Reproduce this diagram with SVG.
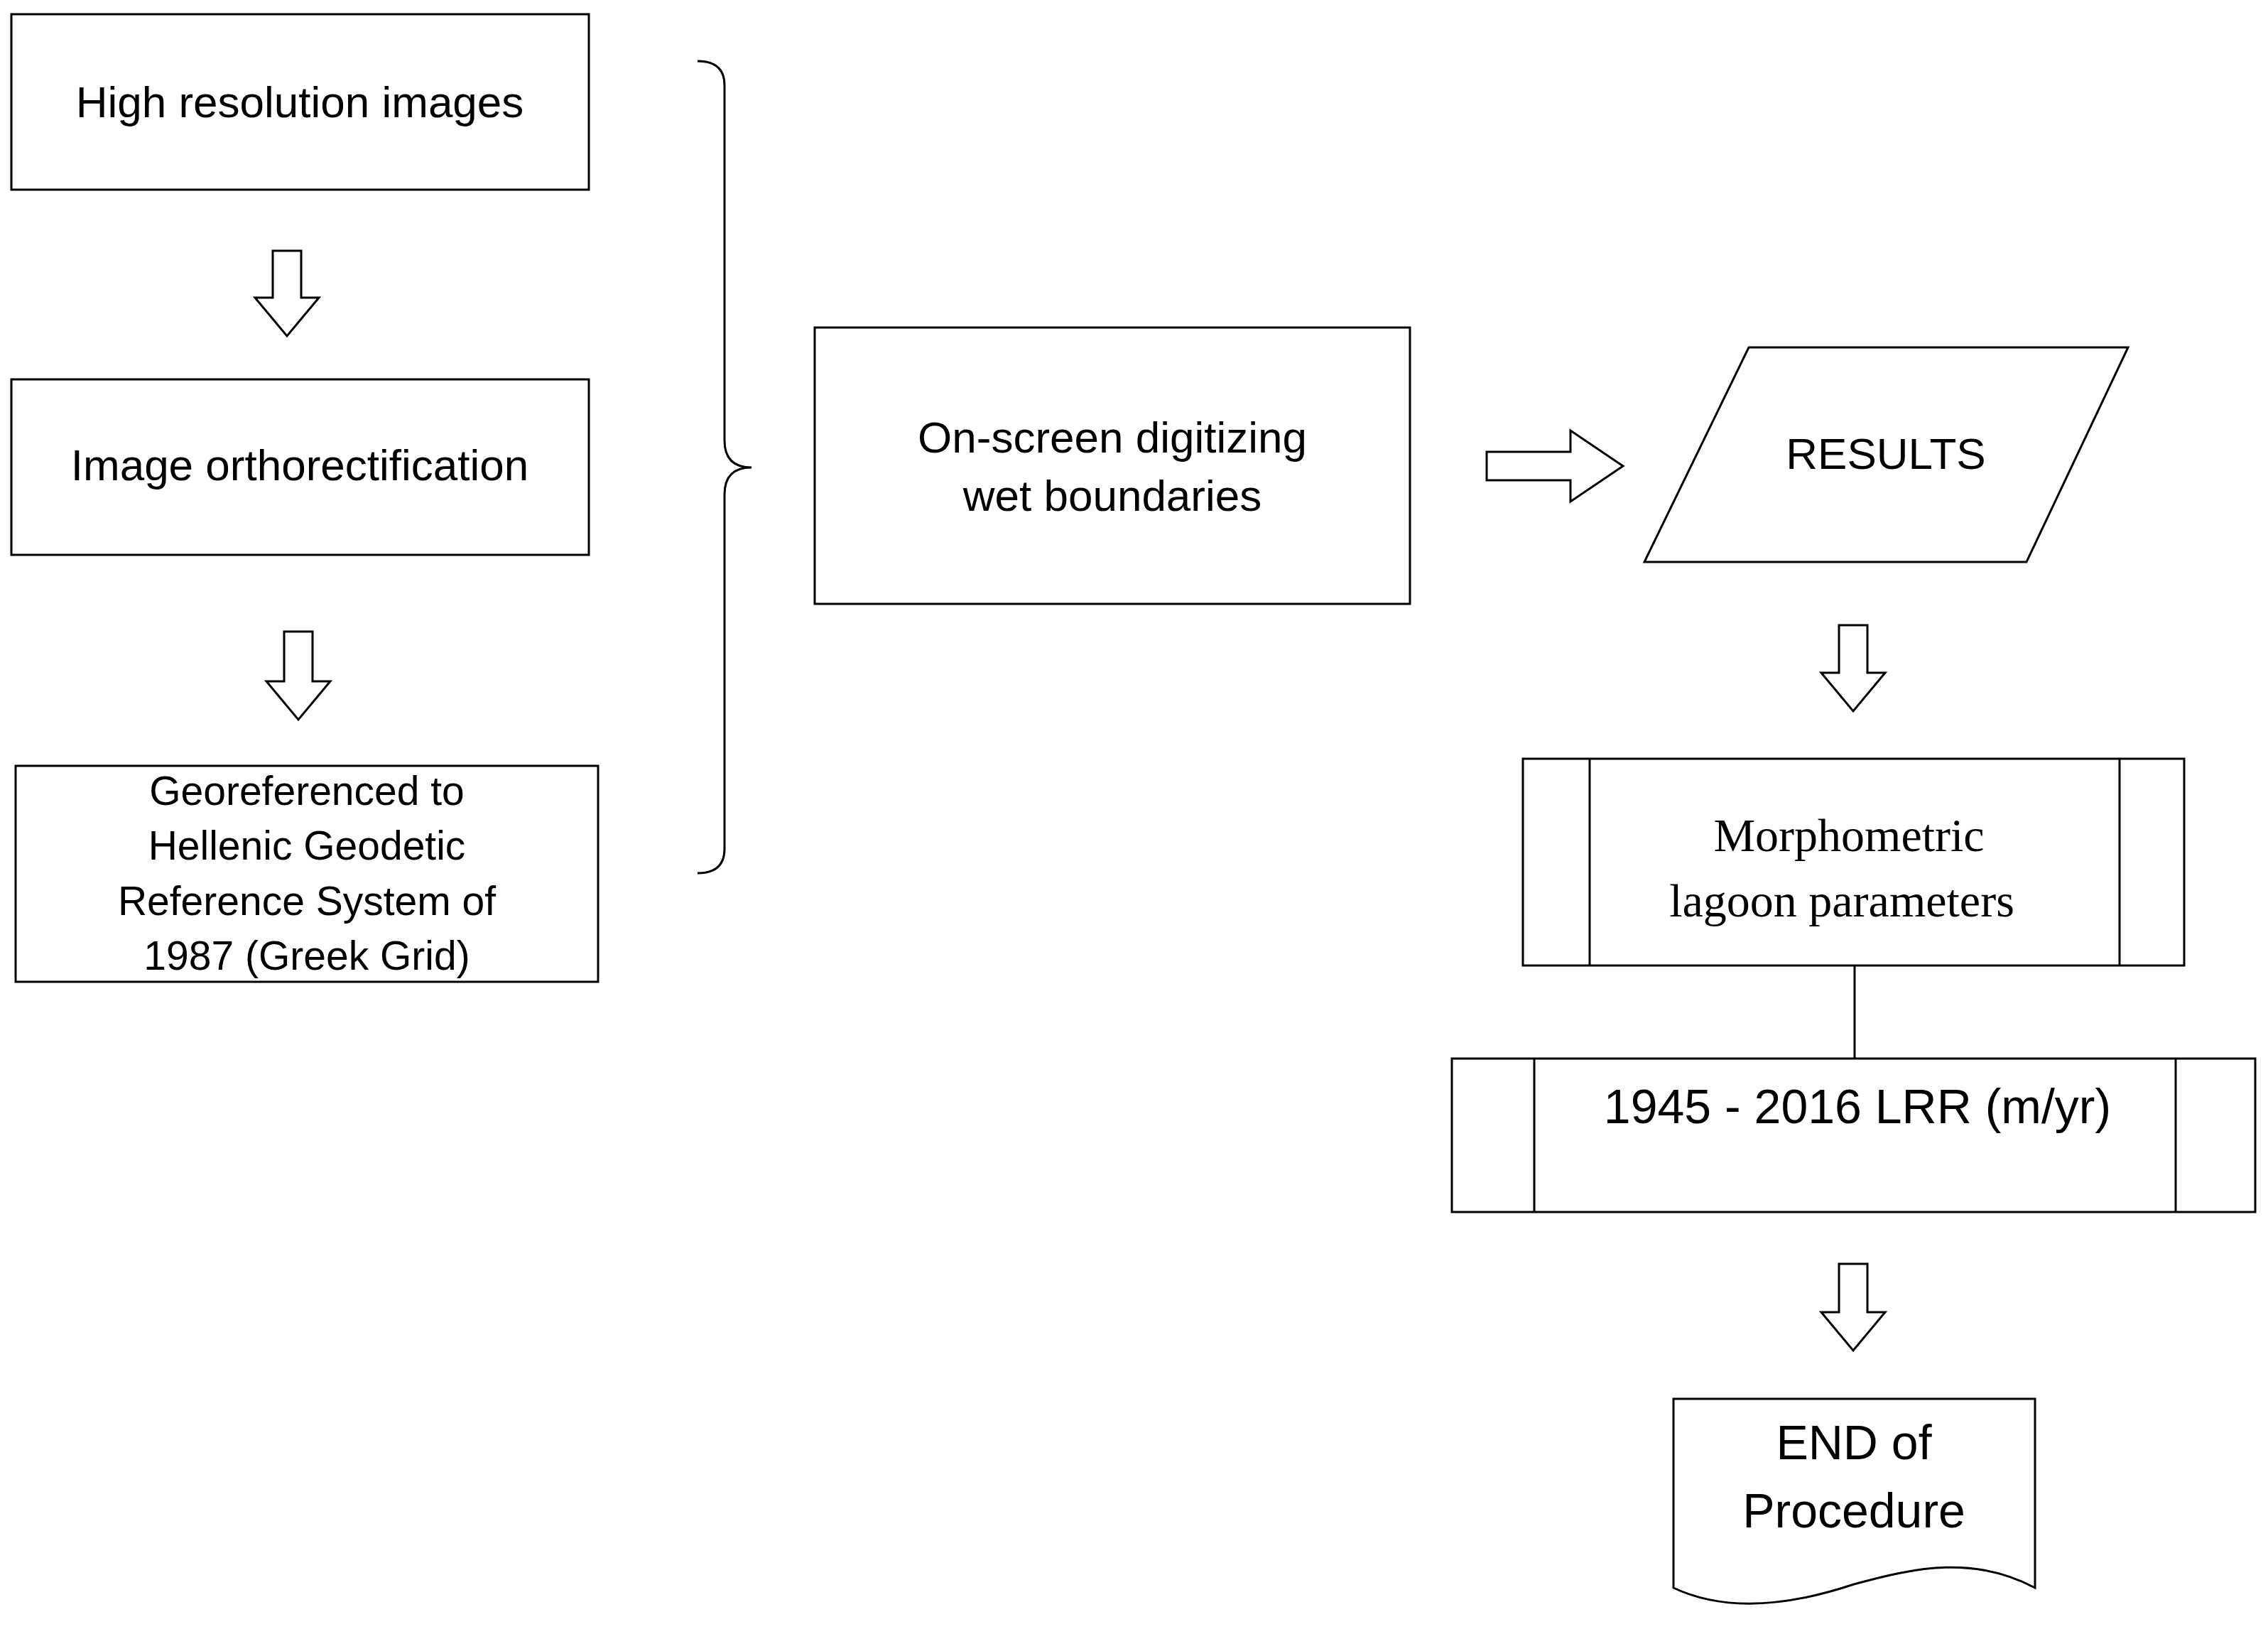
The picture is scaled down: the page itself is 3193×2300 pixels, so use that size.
<svg xmlns="http://www.w3.org/2000/svg" width="3193" height="2300" viewBox="0 0 3193 2300">
<style>
.b{fill:#fff;stroke:#000;stroke-width:3}
.t{font-family:"Liberation Sans",Arial,sans-serif;font-size:62px;text-anchor:middle;fill:#000}
.s{font-size:57px}
.r{font-family:"Liberation Serif","Times New Roman",serif;font-size:66px;text-anchor:middle;fill:#000}
.a{fill:#fff;stroke:#000;stroke-width:3;stroke-linejoin:miter}
</style>
<rect width="3193" height="2300" fill="#fff"/>
<g id="n1"><rect class="b" x="16" y="20" width="813" height="247"/><text class="t" x="422" y="165">High resolution images</text></g>
<g id="n2"><rect class="b" x="16" y="534" width="813" height="247"/><text class="t" x="422" y="676">Image orthorectification</text></g>
<g id="n3"><rect class="b" x="22" y="1078" width="820" height="304"/>
<text class="t s" x="432" y="1133">Georeferenced to</text><text class="t s" x="432" y="1210">Hellenic Geodetic</text><text class="t s" x="432" y="1288">Reference System of</text><text class="t s" x="432" y="1365">1987 (Greek Grid)</text></g>
<g id="n4"><rect class="b" x="1147" y="461" width="838" height="389"/><text class="t" x="1566" y="637">On-screen digitizing</text><text class="t" x="1566" y="719">wet boundaries</text></g>
<g id="n5"><polygon class="b" points="2462,489 2996,489 2853,791 2315,791"/><text class="t" x="2655" y="660">RESULTS</text></g>
<g id="n6"><rect class="b" x="2144" y="1068" width="931" height="291"/><line class="b" x1="2238" y1="1068" x2="2238" y2="1359"/><line class="b" x1="2984" y1="1068" x2="2984" y2="1359"/>
<text class="r" x="2603" y="1198">Morphometric</text><text class="r" x="2593" y="1290">lagoon parameters</text></g>
<g id="n7"><rect class="b" x="2044" y="1490" width="1131" height="216"/><line class="b" x1="2160" y1="1490" x2="2160" y2="1706"/><line class="b" x1="3063" y1="1490" x2="3063" y2="1706"/>
<text class="t" x="2615" y="1581" style="font-size:68px">1945 - 2016 LRR (m/yr)</text></g>
<g id="n8"><path class="b" d="M2356,1969 H2865 V2235 C2780,2190 2700,2205 2610,2230 C2520,2260 2430,2270 2356,2235 Z"/>
<text class="t" x="2610" y="2054" style="font-size:68px">END of</text><text class="t" x="2610" y="2150" style="font-size:68px">Procedure</text></g>
<g id="connectors">
<polygon class="a" points="384,353 424,353 424,419 449,419 404,473 359,419 384,419"/>
<polygon class="a" points="400,889 440,889 440,959 465,959 420,1013 375,959 400,959"/>
<polygon class="a" points="2589,880 2629,880 2629,947 2654,947 2609,1001 2564,947 2589,947"/>
<polygon class="a" points="2589,1779 2629,1779 2629,1847 2654,1847 2609,1901 2564,1847 2589,1847"/>
<polygon class="a" points="2093,636 2211,636 2211,606 2285,656 2211,706 2211,676 2093,676"/>
<path d="M982,86 Q1020,86 1020,120 V620 Q1020,658 1058,658 Q1020,658 1020,696 V1195 Q1020,1229 982,1229" fill="none" stroke="#000" stroke-width="3"/>
<line class="b" x1="2611" y1="1359" x2="2611" y2="1490"/>
</g>
</svg>
